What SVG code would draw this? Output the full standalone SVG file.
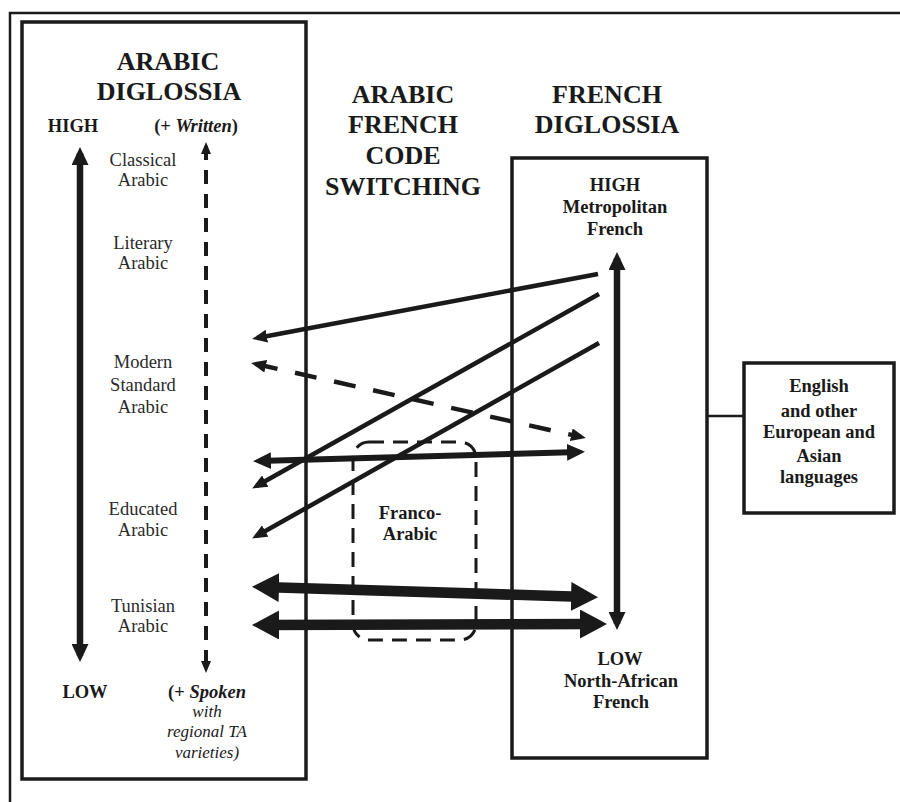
<svg xmlns="http://www.w3.org/2000/svg" width="900" height="802" viewBox="0 0 900 802">
<style>
  .box{fill:none;stroke:#1a1a1a;stroke-width:3.5}
  .t{font-family:"Liberation Serif","Times New Roman",serif;fill:#1a1a1a;text-anchor:middle}
  .title{font-size:26px;font-weight:bold}
  .b{font-weight:bold;font-size:18.5px}
  .r{font-size:18.5px;fill:#2a2a2a}
  .i{font-style:italic;font-size:17px}
  .ln{fill:none;stroke:#1a1a1a;stroke-linecap:butt}
</style>
<defs>
  <marker id="mS" markerUnits="userSpaceOnUse" markerWidth="15" markerHeight="13" refX="10" refY="6.5" orient="auto-start-reverse"><path d="M0,0 L15,6.5 L0,13 z" fill="#1a1a1a"/></marker>
  <marker id="mM" markerUnits="userSpaceOnUse" markerWidth="18" markerHeight="17" refX="12" refY="8.5" orient="auto-start-reverse"><path d="M0,0 L18,8.5 L0,17 z" fill="#1a1a1a"/></marker>
  <marker id="mL" markerUnits="userSpaceOnUse" markerWidth="27" markerHeight="29" refX="16" refY="14.5" orient="auto-start-reverse"><path d="M0,0 L27,14.5 L0,29 z" fill="#1a1a1a"/></marker>
  <marker id="mD" markerUnits="userSpaceOnUse" markerWidth="12" markerHeight="10" refX="8" refY="5" orient="auto-start-reverse"><path d="M0,0 L12,5 L0,10 z" fill="#1a1a1a"/></marker>
</defs>
<rect width="900" height="802" fill="#ffffff"/>
<g id="frame">
  <path d="M10,802 L10,13 L900,13" fill="none" stroke="#1a1a1a" stroke-width="2.5"/>
</g>
<g id="arabic-diglossia">
  <rect class="box" x="22" y="22" width="284" height="757"/>
  <text class="t title" x="168" y="70">ARABIC</text>
  <text class="t title" x="169" y="100">DIGLOSSIA</text>
  <text class="t b" x="73" y="132">HIGH</text>
  <text class="t b" x="196" y="132">(+ <tspan font-style="italic">Written</tspan>)</text>
  <text class="t r" x="143" y="166">Classical</text>
  <text class="t r" x="143" y="186">Arabic</text>
  <text class="t r" x="143" y="249">Literary</text>
  <text class="t r" x="143" y="269">Arabic</text>
  <text class="t r" x="143" y="368">Modern</text>
  <text class="t r" x="143" y="391">Standard</text>
  <text class="t r" x="143" y="413">Arabic</text>
  <text class="t r" x="143" y="515">Educated</text>
  <text class="t r" x="143" y="536">Arabic</text>
  <text class="t r" x="143" y="612">Tunisian</text>
  <text class="t r" x="143" y="632">Arabic</text>
  <text class="t b" x="85" y="698">LOW</text>
  <text class="t b" x="207" y="698">(+ <tspan font-style="italic">Spoken</tspan></text>
  <text class="t i" x="207" y="717">with</text>
  <text class="t i" x="207" y="737">regional TA</text>
  <text class="t i" x="207" y="758">varieties)</text>
  <line class="ln" x1="80" y1="153" x2="80" y2="656" stroke-width="6.5" marker-start="url(#mM)" marker-end="url(#mM)"/>
  <line class="ln" x1="206" y1="146" x2="206" y2="669" stroke-width="4" stroke-dasharray="14 10" marker-start="url(#mD)" marker-end="url(#mD)"/>
</g>
<g id="code-switching">
  <text class="t title" x="403" y="103">ARABIC</text>
  <text class="t title" x="403" y="133">FRENCH</text>
  <text class="t title" x="403" y="164">CODE</text>
  <text class="t title" x="403" y="195">SWITCHING</text>
</g>
<g id="franco-arabic">
  <rect x="353" y="442" width="123" height="198" rx="16" fill="none" stroke="#1a1a1a" stroke-width="3" stroke-dasharray="15 9"/>
  <text class="t b" x="410" y="519">Franco-</text>
  <text class="t b" x="410" y="540">Arabic</text>
</g>
<g id="french-diglossia">
  <text class="t title" x="607" y="103">FRENCH</text>
  <text class="t title" x="607" y="133">DIGLOSSIA</text>
  <rect class="box" x="512" y="158" width="195" height="600" stroke-width="3"/>
  <text class="t b" x="615" y="191">HIGH</text>
  <text class="t b" x="615" y="213">Metropolitan</text>
  <text class="t b" x="615" y="235">French</text>
  <text class="t b" x="620" y="665">LOW</text>
  <text class="t b" x="621" y="687">North-African</text>
  <text class="t b" x="621" y="708">French</text>
  <line class="ln" x1="617" y1="258" x2="617" y2="624" stroke-width="6.5" marker-start="url(#mM)" marker-end="url(#mM)"/>
</g>
<g id="english">
  <rect class="box" x="744" y="363" width="150" height="150" stroke-width="3"/>
  <text class="t b" x="819" y="392" font-size="23">English</text>
  <text class="t b" x="819" y="417">and other</text>
  <text class="t b" x="819" y="438">European and</text>
  <text class="t b" x="819" y="462">Asian</text>
  <text class="t b" x="819" y="483">languages</text>
</g>
<g id="connectors">
  <line class="ln" x1="707" y1="416" x2="744" y2="416" stroke-width="2.5"/>
  <path class="ln" d="M598,274 L257,338" stroke-width="4.5" marker-end="url(#mS)"/>
  <path class="ln" d="M256,364 L581,437" stroke-width="4.5" stroke-dasharray="22 18" marker-start="url(#mS)" marker-end="url(#mS)"/>
  <path class="ln" d="M599,294 L256.5,486" stroke-width="4.5" marker-end="url(#mS)"/>
  <path class="ln" d="M599,343 L256.5,536" stroke-width="4.5" marker-end="url(#mS)"/>
  <path class="ln" d="M259,461 L579,452" stroke-width="6" marker-start="url(#mM)" marker-end="url(#mM)"/>
  <path class="ln" d="M263,587 L587,597" stroke-width="10.5" marker-start="url(#mL)" marker-end="url(#mL)"/>
  <path class="ln" d="M263,625 L596,624" stroke-width="10.5" marker-start="url(#mL)" marker-end="url(#mL)"/>
</g>
</svg>
